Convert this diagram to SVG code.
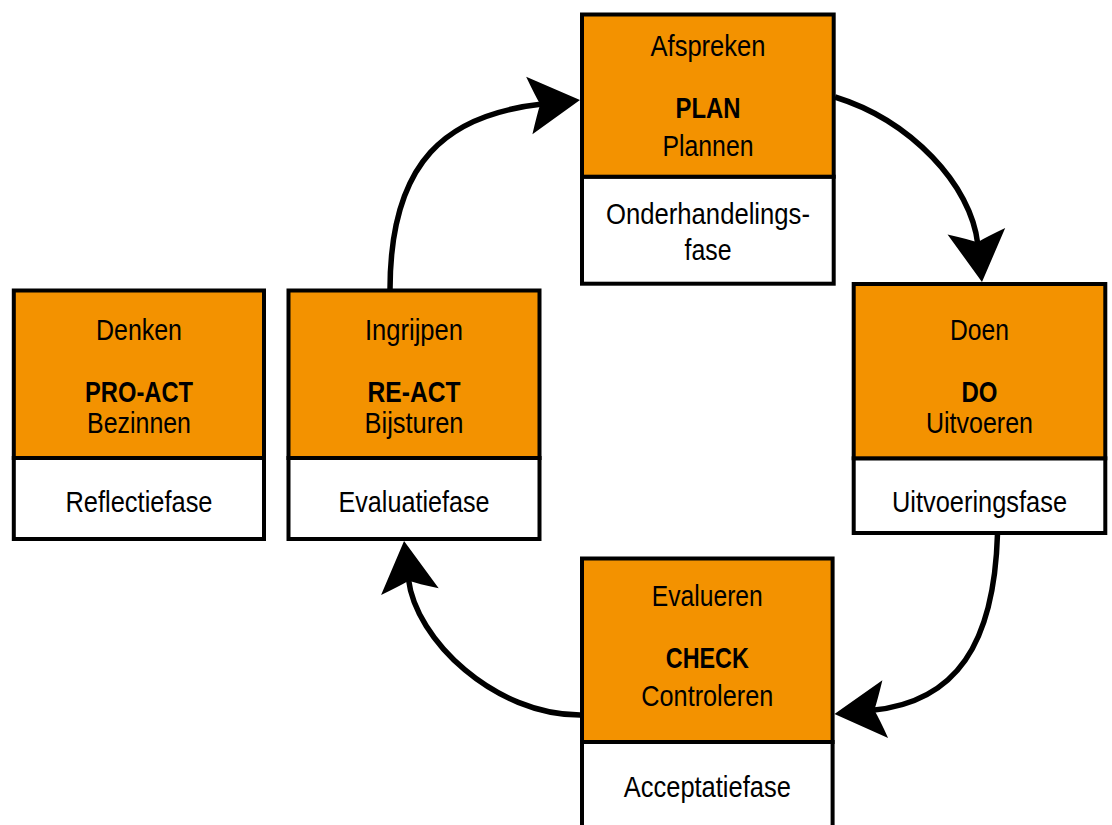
<svg xmlns="http://www.w3.org/2000/svg" width="1112" height="825" viewBox="0 0 1112 825">
<style>
.top{fill:#F39200;stroke:#000;stroke-width:4}
.bot{fill:#fff;stroke:#000;stroke-width:4}
.t{font-family:"Liberation Sans",Arial,sans-serif;font-size:30px;text-anchor:middle;fill:#000}
.b{font-weight:bold}
.c{fill:none;stroke:#000;stroke-width:5.5;marker-end:url(#ah)}
</style>
<defs>
<marker id="ah" markerUnits="userSpaceOnUse" orient="auto" markerWidth="1" markerHeight="1" refX="0" refY="0" overflow="visible">
<path d="M38,0 L-13,-29 Q-6,-9 -2,0 Q-6,9 -13,29 Z" fill="#000"/>
</marker>
</defs>
<rect width="1112" height="825" fill="#fff"/>
<g id="plan">
<rect class="bot" x="582" y="176.7" width="251.7" height="107"/>
<rect class="top" x="582" y="14.5" width="251.7" height="162.2"/>
<text class="t" x="708" y="56" textLength="115" lengthAdjust="spacingAndGlyphs">Afspreken</text>
<text class="t b" x="708" y="118" textLength="65" lengthAdjust="spacingAndGlyphs">PLAN</text>
<text class="t" x="708" y="156" textLength="91" lengthAdjust="spacingAndGlyphs">Plannen</text>
<text class="t" x="708" y="224" textLength="204" lengthAdjust="spacingAndGlyphs">Onderhandelings-</text>
<text class="t" x="708" y="260" textLength="47" lengthAdjust="spacingAndGlyphs">fase</text>
</g>
<g id="proact">
<rect class="bot" x="13.8" y="458" width="250.2" height="81"/>
<rect class="top" x="13.8" y="290.5" width="250.2" height="167.5"/>
<text class="t" x="139" y="340" textLength="86" lengthAdjust="spacingAndGlyphs">Denken</text>
<text class="t b" x="139" y="402" textLength="108" lengthAdjust="spacingAndGlyphs">PRO-ACT</text>
<text class="t" x="139" y="433" textLength="104" lengthAdjust="spacingAndGlyphs">Bezinnen</text>
<text class="t" x="139" y="512" textLength="147" lengthAdjust="spacingAndGlyphs">Reflectiefase</text>
</g>
<g id="react">
<rect class="bot" x="288.5" y="458" width="251" height="81"/>
<rect class="top" x="288.5" y="290.5" width="251" height="167.5"/>
<text class="t" x="414" y="340" textLength="98" lengthAdjust="spacingAndGlyphs">Ingrijpen</text>
<text class="t b" x="414" y="402" textLength="93" lengthAdjust="spacingAndGlyphs">RE-ACT</text>
<text class="t" x="414" y="433" textLength="99" lengthAdjust="spacingAndGlyphs">Bijsturen</text>
<text class="t" x="414" y="512" textLength="151" lengthAdjust="spacingAndGlyphs">Evaluatiefase</text>
</g>
<g id="do">
<rect class="bot" x="853.7" y="458.3" width="251.6" height="74.7"/>
<rect class="top" x="853.7" y="284" width="251.6" height="174.3"/>
<text class="t" x="979.5" y="340" textLength="59" lengthAdjust="spacingAndGlyphs">Doen</text>
<text class="t b" x="979.5" y="402" textLength="36" lengthAdjust="spacingAndGlyphs">DO</text>
<text class="t" x="979.5" y="433" textLength="107" lengthAdjust="spacingAndGlyphs">Uitvoeren</text>
<text class="t" x="979.5" y="512" textLength="175" lengthAdjust="spacingAndGlyphs">Uitvoeringsfase</text>
</g>
<g id="check">
<rect class="bot" x="582" y="742" width="250.6" height="110"/>
<rect class="top" x="582" y="558.5" width="250.6" height="183.5"/>
<text class="t" x="707.3" y="606" textLength="111" lengthAdjust="spacingAndGlyphs">Evalueren</text>
<text class="t b" x="707.3" y="668" textLength="83" lengthAdjust="spacingAndGlyphs">CHECK</text>
<text class="t" x="707.3" y="706" textLength="132" lengthAdjust="spacingAndGlyphs">Controleren</text>
<text class="t" x="707.3" y="797" textLength="167" lengthAdjust="spacingAndGlyphs">Acceptatiefase</text>
</g>
<g id="connectors">
<path class="c" d="M390,290 C390,160 447.6,114.4 542.2,104.1"/>
<path class="c" d="M835,97 C910.5,120.4 971.2,184.6 977.8,244.2"/>
<path class="c" d="M997.5,534 C994.2,644 956.4,702 872.3,710.3"/>
<path class="c" d="M580,715 C495,715 415.5,640.3 408.4,578.7"/>
</g>
</svg>
